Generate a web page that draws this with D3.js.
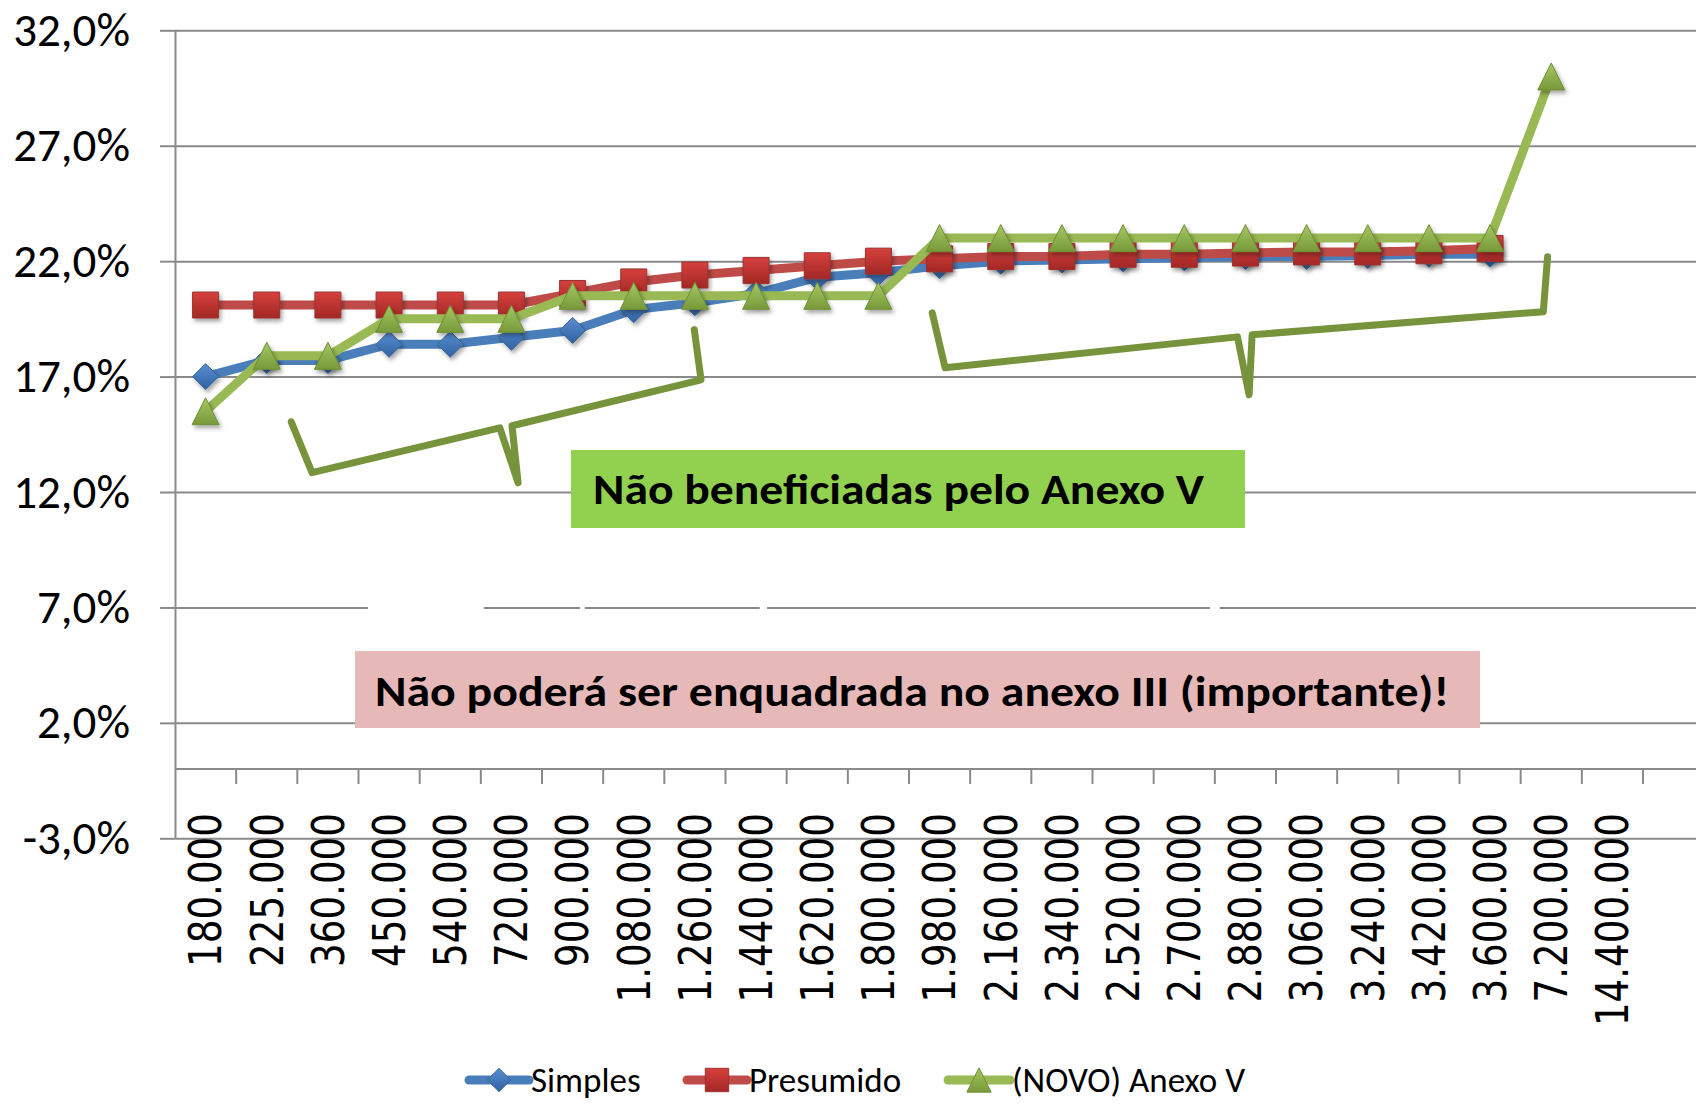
<!DOCTYPE html>
<html>
<head>
<meta charset="utf-8">
<script src="https://cdn.jsdelivr.net/npm/d3@7"></script>
<style>
  body { margin: 0; background: #fff; }
  svg { display: block; }
</style>
</head>
<body>
<svg id="chart" width="1696" height="1104"></svg>
<script>
// faturamento anual (categorias do eixo x)
const categories = ["180.000", "225.000", "360.000", "450.000", "540.000", "720.000", "900.000",
  "1.080.000", "1.260.000", "1.440.000", "1.620.000", "1.800.000", "1.980.000", "2.160.000",
  "2.340.000", "2.520.000", "2.700.000", "2.880.000", "3.060.000", "3.240.000", "3.420.000",
  "3.600.000", "7.200.000", "14.400.000"];

// carga tributaria (%) por regime
const simples   = [17.0, 17.7, 17.7, 18.4, 18.4, 18.7, 19.0, 19.9, 20.2, 20.6, 21.3, 21.5,
  21.8, 22.0, 22.05, 22.1, 22.15, 22.2, 22.2, 22.25, 22.3, 22.3, null, null];
const presumido = [20.1, 20.1, 20.1, 20.1, 20.1, 20.1, 20.6, 21.1, 21.4, 21.6, 21.8, 22.0,
  22.1, 22.2, 22.2, 22.3, 22.3, 22.35, 22.4, 22.4, 22.45, 22.55, null, null];
const anexoV    = [15.5, 17.9, 17.9, 19.5, 19.5, 19.5, 20.5, 20.5, 20.5, 20.5, 20.5, 20.5,
  23.0, 23.0, 23.0, 23.0, 23.0, 23.0, 23.0, 23.0, 23.0, 23.0, 30.0, null];

const seriesNames = ["Simples", "Presumido", "(NOVO) Anexo V"];
const yTicks = [-3, 2, 7, 12, 17, 22, 27, 32];

// chaves (posicao em unidades de categoria, valor em %)
const brace1 = [[1.90, 15.04], [2.24, 12.84], [5.31, 14.78], [5.61, 12.4], [5.51, 14.87], [8.60, 16.86], [8.49, 19.03]];
const brace2 = [[12.38, 19.76], [12.59, 17.38], [17.37, 18.72], [17.56, 16.21], [17.61, 18.81], [22.37, 19.81], [22.44, 22.19]];

const W = 1696, H = 1104;
const plot = {left: 175, right: 1643, top: 30.3, bottom: 838.3};

const svg = d3.select("#chart");

const x = d3.scaleBand().domain(categories).range([plot.left, plot.right]);
const xi = d3.scaleLinear().domain([0, categories.length]).range([plot.left, plot.right]);
const y = d3.scaleLinear().domain([-3, 32]).range([plot.bottom, plot.top]);
const ptBR = d3.formatLocale({decimal: ",", thousands: ".", grouping: [3], currency: ["R$", ""], minus: "-"});
const fmt = v => ptBR.format(".1f")(v) + "%";
const cx = i => x(categories[i]) + x.bandwidth() / 2;

const labelFont = "Carlito, Lato, sans-serif";

// ---- defs: gradients + shadow
const defs = svg.append("defs");
const grads = [
  {id: "gBlue", top: "#5B8ED0", bottom: "#2F62A3"},
  {id: "gRed", top: "#D6403D", bottom: "#A32826"},
  {id: "gGreen", top: "#A5C763", bottom: "#77993A"}
];
grads.forEach(g => {
  let lg = defs.append("linearGradient").attr("id", g.id).attr("x1", 0).attr("y1", 0).attr("x2", 0).attr("y2", 1);
  lg.append("stop").attr("offset", "0%").attr("stop-color", g.top);
  lg.append("stop").attr("offset", "100%").attr("stop-color", g.bottom);
});
defs.append("filter").attr("id", "shadow").attr("x", "-50%").attr("y", "-50%").attr("width", "200%").attr("height", "200%")
  .append("feDropShadow").attr("dx", 2).attr("dy", 3).attr("stdDeviation", 2)
  .attr("flood-color", "#000").attr("flood-opacity", 0.35);

// ---- gridlines
svg.append("g")
  .attr("transform", `translate(${plot.left},0)`)
  .call(d3.axisLeft(y).tickValues(yTicks).tickSize(-(W - plot.left)).tickSizeOuter(0).tickFormat(""))
  .call(g => g.select(".domain").remove())
  .call(g => g.selectAll("line").attr("stroke", "#8a8a8a").attr("stroke-width", 2));

// falhas brancas na linha de 7% (como no original)
const gaps = [[3.155, 5.05], [6.62, 6.70], [9.56, 9.68], [16.92, 17.08]];
svg.append("g").selectAll("rect").data(gaps).enter().append("rect")
  .attr("x", d => xi(d[0])).attr("width", d => xi(d[1]) - xi(d[0]))
  .attr("y", y(7) - 3).attr("height", 6).attr("fill", "#fff");

// ---- y axis
svg.append("g")
  .attr("transform", `translate(${plot.left},0)`)
  .call(d3.axisLeft(y).tickValues(yTicks).tickSize(15).tickSizeOuter(0).tickPadding(30).tickFormat(fmt))
  .call(g => g.select(".domain").attr("stroke", "#8a8a8a").attr("stroke-width", 2))
  .call(g => g.selectAll("line").attr("stroke", "#8a8a8a").attr("stroke-width", 2))
  .call(g => g.selectAll("text").attr("font-family", labelFont).attr("font-size", 47).attr("fill", "#000"));

// ---- x axis (at 0%)
const xAxis = svg.append("g");
xAxis.append("line")
  .attr("x1", plot.left).attr("x2", W).attr("y1", y(0)).attr("y2", y(0))
  .attr("stroke", "#8a8a8a").attr("stroke-width", 2);
xAxis.selectAll(".tick").data(d3.range(1, categories.length + 1)).enter().append("line")
  .attr("x1", d => xi(d)).attr("x2", d => xi(d))
  .attr("y1", y(0)).attr("y2", y(0) + 15)
  .attr("stroke", "#8a8a8a").attr("stroke-width", 2);
xAxis.selectAll("text").data(categories).enter().append("text")
  .attr("transform", d => `translate(${x(d) + x.bandwidth() / 2},${y(0) + 44}) rotate(-90) scale(1.02,1.2)`)
  .attr("text-anchor", "end")
  .attr("dy", "0.36em")
  .attr("font-family", "DejaVu Sans, Verdana, sans-serif")
  .attr("font-size", 36.5)
  .attr("fill", "#000")
  .text(d => d);

// ---- annotation boxes
const notes = [
  {text: "Não beneficiadas pelo Anexo V", fill: "#92D050", x: 571, y: 450, w: 674, h: 78, tx: 593, ty: 504, tl: 611},
  {text: "Não poderá ser enquadrada no anexo III (importante)!", fill: "#E6B8B7", x: 355, y: 651, w: 1125, h: 77, tx: 375, ty: 706, tl: 1074}
];
const noteG = svg.append("g");
notes.forEach(n => {
  noteG.append("rect").attr("x", n.x).attr("y", n.y).attr("width", n.w).attr("height", n.h).attr("fill", n.fill);
  noteG.append("text").attr("x", n.tx).attr("y", n.ty)
    .attr("font-family", labelFont).attr("font-weight", "bold").attr("font-size", 42)
    .attr("textLength", n.tl).attr("lengthAdjust", "spacingAndGlyphs")
    .attr("fill", "#000").text(n.text);
});

// ---- braces
const braceLine = d3.line().x(d => xi(d[0])).y(d => y(d[1])).curve(d3.curveLinear);
[brace1, brace2].forEach(b => {
  svg.append("path").attr("d", braceLine(b))
    .attr("fill", "none").attr("stroke", "#77933C").attr("stroke-width", 7)
    .attr("stroke-linejoin", "round").attr("stroke-linecap", "round");
});

// ---- series
function markerPath(type, s) {
  if (type === "diamond") return `M0,${-s / 2}L${s / 2},0L0,${s / 2}L${-s / 2},0Z`;
  if (type === "square") return `M${-s / 2},${-s / 2}h${s}v${s}h${-s}Z`;
  return `M0,${-s / 2}L${s / 2},${s / 2}L${-s / 2},${s / 2}Z`;
}
const series = [
  {name: seriesNames[0], values: simples, line: "#4A7EBB", grad: "gBlue", edge: "#3A6596", marker: "diamond", size: 26},
  {name: seriesNames[1], values: presumido, line: "#BE4B48", grad: "gRed", edge: "#9A3230", marker: "square", size: 26},
  {name: seriesNames[2], values: anexoV, line: "#98B954", grad: "gGreen", edge: "#6F8F35", marker: "triangle", size: 27}
];
const line = d3.line().defined(d => d != null).x((d, i) => cx(i)).y(d => y(d));

series.forEach(s => {
  const g = svg.append("g");
  g.append("path").attr("d", line(s.values))
    .attr("fill", "none").attr("stroke", s.line).attr("stroke-width", 9)
    .attr("stroke-linejoin", "round").attr("stroke-linecap", "round");
  g.selectAll("path.mk").data(s.values.map((v, i) => [i, v]).filter(d => d[1] != null))
    .enter().append("path").attr("class", "mk")
    .attr("transform", d => `translate(${cx(d[0])},${y(d[1])})`)
    .attr("d", markerPath(s.marker, s.size))
    .attr("fill", `url(#${s.grad})`).attr("stroke", s.edge).attr("stroke-width", 1)
    .attr("filter", "url(#shadow)");
});

// ---- legend
const legendPos = [{x1: 469, x2: 529}, {x1: 687, x2: 747}, {x1: 948, x2: 1010}];
const ly = 1080;
series.forEach((s, i) => {
  const p = legendPos[i];
  const g = svg.append("g");
  g.append("line").attr("x1", p.x1).attr("x2", p.x2).attr("y1", ly).attr("y2", ly)
    .attr("stroke", s.line).attr("stroke-width", 9).attr("stroke-linecap", "round");
  g.append("path").attr("transform", `translate(${(p.x1 + p.x2) / 2},${ly})`)
    .attr("d", markerPath(s.marker, s.size * 0.9)).attr("fill", `url(#${s.grad})`)
    .attr("stroke", s.edge).attr("stroke-width", 1);
  g.append("text").attr("x", p.x2 + 2).attr("y", ly).attr("dy", "0.35em")
    .attr("font-family", labelFont).attr("font-size", 35).attr("fill", "#000")
    .text(s.name);
});
</script>
</body>
</html>
